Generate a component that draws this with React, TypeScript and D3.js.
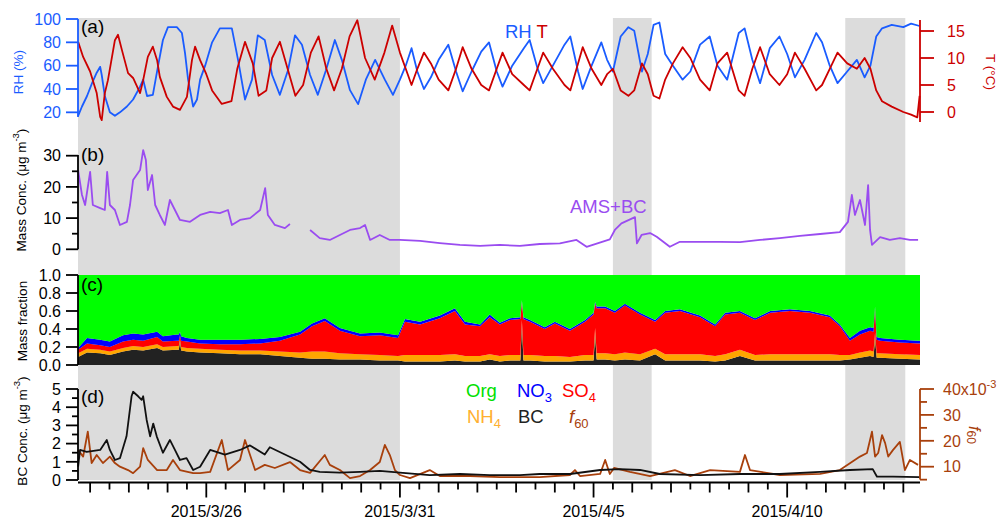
import React from "react";
import * as d3 from "d3";

type P = [number, number | null];

// time = day number counted from 2015-03-01 (32 = April 1)
const rhSeries: P[] = [
  [22.69,17],[22.79,25],[22.92,34],[23.05,45],[23.17,54],[23.26,59],[23.30,52],[23.38,34],[23.51,20],[23.64,17],
  [23.77,20],[23.95,25],[24.11,31],[24.29,42],[24.37,48],[24.47,34],[24.62,35],[24.75,59],[24.88,82],[25.01,93],
  [25.24,93],[25.37,88],[25.45,71],[25.53,48],[25.66,25],[25.76,31],[25.84,48],[25.97,60],[26.15,80],[26.35,92],
  [26.66,92],[26.82,65],[27.00,31],[27.18,48],[27.33,86],[27.51,82],[27.70,52],[27.90,35],[28.11,56],[28.29,86],
  [28.47,78],[28.68,52],[28.88,35],[29.09,56],[29.32,82],[29.50,65],[29.71,39],[29.92,27],[30.12,48],[30.36,65],
  [30.61,48],[30.82,35],[31.00,48],[31.15,60],[31.3,75],[31.45,55],[31.62,40],[31.8,50],[32.0,65],[32.25,78],
  [32.45,55],[32.62,38],[32.85,55],[33.1,72],[33.3,80],[33.5,55],[33.65,42],[33.9,60],[34.2,75],[34.35,82],
  [34.55,58],[34.7,45],[34.95,60],[35.25,78],[35.4,85],[35.6,55],[35.72,40],[35.95,60],[36.2,80],[36.35,65],
  [36.5,55],[36.7,85],[36.9,93],[37.05,90],[37.25,55],[37.4,70],[37.55,95],[37.7,97],[37.85,70],[38.05,60],
  [38.3,48],[38.5,55],[38.75,78],[39.0,85],[39.2,60],[39.45,48],[39.75,88],[39.9,92],[40.1,65],[40.3,45],
  [40.55,75],[40.8,85],[41.0,70],[41.2,50],[41.45,65],[41.75,88],[41.9,80],[42.1,60],[42.3,45],[42.55,55],
  [42.8,65],[43.0,50],[43.15,60],[43.3,85],[43.45,92],[43.7,95],[44.0,93],[44.2,96],[44.42,94]
];

const tSeries: P[] = [
  [22.69,13.0],[22.82,10.2],[23.0,7.5],[23.17,3.5],[23.26,-0.9],[23.30,-1.5],[23.38,3.5],[23.46,5.9],[23.64,13.3],[23.72,14.3],
  [23.82,11.5],[23.98,7.2],[24.11,6.3],[24.29,3.5],[24.37,5.9],[24.49,10.2],[24.62,12.1],[24.73,9.6],[24.80,6.5],[24.98,2.8],
  [25.14,1.0],[25.32,0.4],[25.50,2.8],[25.63,9.6],[25.71,12.1],[25.84,9.6],[26.0,7],[26.15,4],[26.4,1.5],[26.65,2],
  [26.8,8],[27.0,13],[27.2,9],[27.35,3],[27.55,4],[27.7,10],[27.9,13],[28.1,8],[28.3,3],[28.5,5],
  [28.7,11],[28.9,14],[29.1,8],[29.3,4],[29.5,8],[29.7,14],[29.9,17],[30.1,10],[30.35,6],[30.6,11],
  [30.8,16],[31.0,11],[31.15,8],[31.3,5],[31.45,8],[31.62,11],[31.8,9],[32.0,6],[32.25,4],[32.45,8],
  [32.62,12],[32.85,8],[33.1,5],[33.3,4],[33.5,8],[33.65,11],[33.9,7],[34.2,5],[34.35,4],[34.55,8],
  [34.7,11],[34.95,8],[35.25,5],[35.4,4],[35.6,9],[35.72,12],[35.95,8],[36.2,5],[36.35,7],[36.5,8],
  [36.7,4],[36.9,3],[37.05,4],[37.25,9],[37.4,7],[37.55,3],[37.7,2.5],[37.85,6],[38.05,9],[38.3,12],
  [38.5,10],[38.75,6],[39.0,4],[39.2,9],[39.45,11],[39.75,4],[39.9,3],[40.1,8],[40.3,12],[40.55,7],
  [40.8,5],[41.0,7],[41.2,11],[41.45,8],[41.75,4],[41.9,5],[42.1,8],[42.3,11],[42.55,9],[42.8,8],
  [43.0,10],[43.15,8],[43.3,4],[43.45,2],[43.7,1],[44.0,0],[44.2,-0.5],[44.36,-1],[44.42,3]
];

const massSeries: P[] = [
  [22.69,25.4],[22.79,17.4],[22.87,14.2],[23.0,24.8],[23.07,14.2],[23.26,13.2],[23.38,12.6],[23.44,24.8],[23.51,14.2],[23.64,12.6],
  [23.77,7.8],[23.95,8.8],[24.03,14.2],[24.11,22.2],[24.29,25.4],[24.37,31.8],[24.44,28.6],[24.49,19.0],[24.60,23.8],[24.68,14.2],
  [24.80,11.0],[24.93,7.8],[25.06,15.8],[25.19,12.6],[25.32,9.4],[25.58,8.8],[25.84,11.0],[26.10,12.0],[26.35,11.6],[26.56,12.6],
  [26.66,7.8],[26.87,9.4],[27.13,10.0],[27.39,12.6],[27.52,19.6],[27.59,11.0],[27.77,7.8],[28.03,6.8],[28.16,8.1],[28.3,null],
  [28.68,6.2],[28.93,3.6],[29.19,3.0],[29.45,4.6],[29.71,6.2],[29.97,6.8],[30.10,7.8],[30.23,3.0],[30.48,4.6],[30.74,3.0],
  [31.0,3.0],[31.52,2.7],[32.03,2.0],[32.55,1.4],[33.07,1.1],[33.58,1.4],[34.10,1.1],[34.61,1.7],[35.13,1.9],[35.56,3.0],
  [35.82,0.8],[36.42,3.2],[36.55,6.2],[36.72,8.3],[37.07,10.3],[37.12,1.9],[37.24,4.6],[37.46,5.2],[37.63,4.0],[37.97,0.8],
  [38.23,2.4],[38.92,2.4],[39.26,2.4],[39.78,2.3],[40.30,3.0],[40.81,3.6],[41.33,4.3],[41.85,4.9],[42.36,5.5],[42.57,8.8],
  [42.67,17.4],[42.75,11.0],[42.88,15.8],[43.01,7.8],[43.09,20.6],[43.14,6.2],[43.19,1.4],[43.40,3.9],[43.65,3.0],[43.91,3.6],
  [44.17,3.0],[44.38,3.0]
];

const fracTime = [
  22.69,22.92,23.26,23.51,23.85,24.11,24.37,24.73,24.88,25.24,
  25.29,25.32,25.35,25.50,25.84,26.35,26.87,27.39,27.90,28.42,
  28.73,29.06,29.45,29.97,30.48,30.95,31.13,31.52,32.03,32.42,
  32.68,33.07,33.32,33.58,33.84,34.11,34.15,34.19,34.36,34.74,
  35.00,35.39,35.78,36.00,36.04,36.08,36.30,36.55,36.81,37.20,
  37.59,37.85,38.23,38.75,39.14,39.40,39.78,40.17,40.56,41.07,
  41.59,42.10,42.36,42.62,42.88,43.14,43.23,43.27,43.31,43.40,
  43.91,44.43];
const bcFrac = [
  .09,.14,.13,.11,.15,.17,.16,.19,.16,.17,
  .17,.26,.16,.15,.14,.13,.12,.12,.10,.08,
  .07,.07,.06,.06,.05,.05,.04,.04,.04,.05,
  .04,.04,.06,.04,.05,.05,.45,.05,.05,.04,
  .04,.04,.05,.05,.35,.06,.06,.05,.06,.05,
  .12,.05,.05,.05,.04,.05,.10,.05,.05,.05,
  .05,.05,.05,.06,.08,.10,.09,.30,.08,.08,
  .07,.06];
const nh4Frac = [
  .04,.04,.04,.04,.04,.04,.04,.04,.04,.04,
  .04,.03,.04,.04,.04,.04,.04,.04,.05,.06,
  .08,.08,.07,.06,.06,.05,.07,.07,.07,.07,
  .06,.06,.06,.06,.06,.06,.05,.06,.06,.06,
  .06,.05,.06,.06,.06,.07,.07,.07,.08,.07,
  .06,.07,.07,.07,.06,.07,.07,.06,.07,.07,
  .07,.07,.06,.05,.06,.06,.06,.06,.05,.05,
  .05,.05];
const so4Frac = [
  .04,.06,.05,.05,.07,.07,.07,.08,.06,.06,
  .06,.04,.07,.07,.06,.06,.07,.08,.12,.20,
  .28,.34,.25,.20,.22,.20,.37,.34,.41,.48,
  .35,.33,.41,.35,.39,.40,.20,.40,.37,.30,
  .36,.29,.37,.45,.27,.50,.50,.46,.52,.44,
  .30,.46,.48,.41,.33,.44,.41,.39,.46,.48,
  .46,.41,.32,.16,.20,.22,.22,.26,.15,.14,
  .13,.13];
const no3Frac = [
  .02,.06,.06,.06,.07,.07,.07,.06,.06,.07,
  .07,.04,.05,.04,.04,.05,.05,.05,.04,.03,
  .03,.03,.03,.03,.03,.03,.03,.03,.03,.03,
  .03,.02,.03,.02,.02,.02,.02,.02,.02,.02,
  .02,.02,.02,.02,.02,.02,.02,.02,.02,.02,
  .02,.02,.02,.02,.02,.02,.02,.02,.02,.02,
  .02,.02,.02,.03,.04,.04,.04,.03,.03,.03,
  .03,.03];

const bcConcSeries: P[] = [
  [22.69,0.73],[22.74,1.65],[22.91,1.55],[23.26,1.65],[23.43,2.2],[23.51,1.65],[23.64,1.1],[23.77,1.2],[23.94,2.4],[24.07,4.6],
  [24.11,4.85],[24.24,4.6],[24.33,4.4],[24.37,4.6],[24.46,3.3],[24.55,2.4],[24.63,3.1],[24.72,2.4],[24.88,1.5],[25.06,2.2],
  [25.19,1.65],[25.32,1.1],[25.49,1.2],[25.66,0.55],[25.84,0.73],[26.10,1.65],[26.48,1.4],[26.87,1.65],[27.13,1.9],[27.51,1.4],
  [27.64,1.8],[28.03,1.4],[28.42,1.0],[28.68,0.55],[28.93,0.45],[29.45,0.4],[29.97,0.45],[30.48,0.5],[31.0,0.4],[31.77,0.27],
  [32.55,0.33],[33.32,0.27],[34.10,0.27],[34.61,0.33],[35.39,0.33],[36.17,0.55],[36.68,0.6],[37.2,0.55],[37.71,0.33],[38.75,0.27],
  [39.78,0.33],[40.81,0.33],[41.85,0.45],[42.62,0.55],[43.21,0.6],[43.32,0.18],[43.73,0.18],[44.42,0.16]
];

const f60Series: P[] = [
  [22.69,16.4],[22.82,13.9],[22.94,23.5],[23.04,11.4],[23.17,14.5],[23.33,11.4],[23.51,13.9],[23.64,11.4],[23.77,10.0],[23.98,8.7],
  [24.11,7.5],[24.29,10.0],[24.37,17.2],[24.49,12.6],[24.73,8.7],[24.98,8.7],[25.14,12.6],[25.32,8.7],[25.66,7.5],[25.84,7.5],
  [26.10,8.0],[26.40,20.3],[26.56,8.7],[26.87,12.6],[27.0,20.3],[27.26,8.7],[27.51,10.7],[27.77,9.5],[28.16,11.8],[28.42,8.7],
  [28.68,7.6],[29.06,14.5],[29.19,10.7],[29.45,8.7],[29.71,5.6],[29.97,6.4],[30.23,8.7],[30.48,11.8],[30.61,18.4],[30.74,14.5],
  [30.87,8.7],[31.0,6.8],[31.26,5.6],[31.77,8.7],[32.03,6.4],[32.81,6.4],[33.58,6.0],[34.61,6.0],[35.39,6.8],[35.52,8.7],
  [35.65,6.4],[36.17,7.2],[36.30,12.6],[36.42,7.2],[36.53,9.5],[36.94,8.0],[37.46,6.4],[38.10,8.7],[38.49,6.4],[39.01,8.7],
  [39.78,8.0],[39.91,14.5],[40.04,8.7],[40.81,6.8],[41.85,7.2],[42.36,8.7],[42.88,13.9],[43.06,15.3],[43.19,23.5],[43.27,13.9],
  [43.35,15.3],[43.45,22.2],[43.53,19.1],[43.61,13.9],[43.73,16.4],[43.91,19.6],[44.04,8.7],[44.17,12.6],[44.38,10.7]
];

const shadeSpans = [[22.687, 31.0], [36.5, 37.5], [42.5, 44.05]];

const rhTicks = [20, 40, 60, 80, 100];
const tTicks = [0, 5, 10, 15];
const massTicks = [0, 10, 20, 30];
const massMinor = [5, 15, 25];
const fracTicks = [0, 0.2, 0.4, 0.6, 0.8, 1.0];
const bcTicks = [0, 1, 2, 3, 4, 5];
const bcMinor = [0.5, 1.5, 2.5, 3.5, 4.5];
const f60Ticks = [10, 20, 30, 40];
const f60Minor = [5, 15, 25, 35];
const dateLabelDays = [26, 31, 36, 41];

const FONT = "'Liberation Sans', Arial, Helvetica, sans-serif";
const C_RH = "#1a5cff", C_T = "#cc0000", C_MASS = "#9a4cf0", C_BC = "#111111", C_F60 = "#a8400c";
const C_ORG = "#00ff00", C_NO3 = "#0000ff", C_SO4 = "#ff0000", C_NH4 = "#ffa500", C_BCF = "#222222";

const dt = (d: number) => new Date(Date.UTC(2015, 2, 1) + (d - 1) * 864e5);

export default function App() {
  const L = 78, R = 920;
  const x = d3.scaleUtc().domain([dt(22.687), dt(44.43)]).range([L, R]);
  const rhY = d3.scaleLinear().domain([16, 100]).range([117, 19]);
  const tY = d3.scaleLinear().domain([0, 15]).range([112, 31]);
  const massY = d3.scaleLinear().domain([0, 30]).range([249.3, 155.7]);
  const fracY = d3.scaleLinear().domain([0, 1]).range([365, 275]);
  const bcY = d3.scaleLinear().domain([0, 5]).range([480, 389]);
  const f60Y = d3.scaleLinear().domain([10, 40]).range([466.7, 389]);

  const mk = (ys: d3.ScaleLinear<number, number>) =>
    d3.line<P>().defined(d => d[1] !== null).x(d => x(dt(d[0]))).y(d => ys(d[1] as number));

  const rows = fracTime.map((t, i) => {
    const bc = bcFrac[i], nh4 = nh4Frac[i], so4 = so4Frac[i], no3 = no3Frac[i];
    return { t, bc, nh4, so4, no3, org: 1 - bc - nh4 - so4 - no3 };
  });
  const keys = ["bc", "nh4", "so4", "no3", "org"];
  const colors: Record<string, string> = { bc: C_BCF, nh4: C_NH4, so4: C_SO4, no3: C_NO3, org: C_ORG };
  const stacked = d3.stack<any>().keys(keys)(rows);
  const area = d3.area<any>().x(d => x(dt(d.data.t))).y0(d => fracY(d[0])).y1(d => fracY(d[1]));

  const leftAxis = (scale: any, ticks: number[], minor: number[], color: string, fmt: (v: number) => string, y1: number, y2: number) => (
    <g>
      <line x1={L} x2={L} y1={y1} y2={y2} stroke={color} strokeWidth={1.8} />
      {ticks.map(t => <line key={"a" + t} x1={L - 12} x2={L} y1={scale(t)} y2={scale(t)} stroke={color} strokeWidth={1.8} />)}
      {minor.map(t => <line key={"m" + t} x1={L - 6} x2={L} y1={scale(t)} y2={scale(t)} stroke={color} strokeWidth={1.8} />)}
      {ticks.map(t => <text key={"t" + t} x={L - 17} y={scale(t)} dy="0.36em" textAnchor="end" fill={color} fontSize={16}>{fmt(t)}</text>)}
    </g>
  );
  const rightAxis = (scale: any, ticks: number[], minor: number[], color: string, y1: number, y2: number) => (
    <g>
      <line x1={R} x2={R} y1={y1} y2={y2} stroke={color} strokeWidth={1.8} />
      {ticks.map(t => <line key={"a" + t} x1={R} x2={R + 14} y1={scale(t)} y2={scale(t)} stroke={color} strokeWidth={1.8} />)}
      {minor.map(t => <line key={"m" + t} x1={R} x2={R + 7} y1={scale(t)} y2={scale(t)} stroke={color} strokeWidth={1.8} />)}
    </g>
  );

  const xTicks = d3.utcHour.every(12)!.range(dt(22.687), dt(44.43));
  const labelSet = new Set(dateLabelDays.map(d => dt(d).getTime()));
  const fmtDate = d3.utcFormat("%Y/%-m/%-d");
  const fmt1 = d3.format(".1f");

  return (
    <svg width={1000} height={524} style={{ position: "absolute", left: 0, top: 0, background: "#fff" }} fontFamily={FONT}>
      <rect x={0} y={0} width={1000} height={524} fill="#fff" />
      {shadeSpans.map((s, i) => (
        <rect key={i} x={x(dt(s[0]))} y={18} width={x(dt(s[1])) - x(dt(s[0]))} height={462} fill="#dcdcdc" />
      ))}

      {stacked.map(s => <path key={s.key} d={area(s) || ""} fill={colors[s.key]} />)}

      <path d={mk(rhY)(rhSeries) || ""} fill="none" stroke={C_RH} strokeWidth={1.8} strokeLinejoin="round" />
      <path d={mk(tY)(tSeries) || ""} fill="none" stroke={C_T} strokeWidth={1.8} strokeLinejoin="round" />
      <path d={mk(massY)(massSeries) || ""} fill="none" stroke={C_MASS} strokeWidth={1.8} strokeLinejoin="round" />
      <path d={mk(f60Y)(f60Series) || ""} fill="none" stroke={C_F60} strokeWidth={1.8} strokeLinejoin="round" />
      <path d={mk(bcY)(bcConcSeries) || ""} fill="none" stroke={C_BC} strokeWidth={1.8} strokeLinejoin="round" />

      {leftAxis(rhY, rhTicks, [], C_RH, v => String(v), 19, 117)}
      {rightAxis(tY, tTicks, [], C_T, 20, 122)}
      {tTicks.map(t => <text key={t} x={947} y={tY(t)} dy="0.36em" fill={C_T} fontSize={16}>{t}</text>)}
      {leftAxis(massY, massTicks, massMinor, "#000", v => String(v), 155, 249.3)}
      {leftAxis(fracY, fracTicks, [], "#000", v => fmt1(v), 275, 365)}
      {leftAxis(bcY, bcTicks, bcMinor, "#000", v => String(v), 389, 480)}
      {rightAxis(f60Y, f60Ticks, f60Minor, C_F60, 389, 479.6)}
      {f60Ticks.map(t => (
        <text key={t} x={943} y={f60Y(t)} dy="0.36em" fill={C_F60} fontSize={16}>
          {t}{t === 40 ? <>x10<tspan dy="-7" fontSize={11}>-3</tspan></> : null}
        </text>
      ))}

      <line x1={L} x2={R} y1={482.5} y2={482.5} stroke="#000" strokeWidth={1.8} />
      {xTicks.map(t => {
        const isNoon = t.getUTCHours() === 12;
        const isLab = labelSet.has(t.getTime());
        const len = isNoon ? 7 : isLab ? 15 : 10;
        return <line key={t.getTime()} x1={x(t)} x2={x(t)} y1={482.5} y2={482.5 + len} stroke="#000" strokeWidth={1.8} />;
      })}
      {dateLabelDays.map(d => (
        <text key={d} x={x(dt(d))} y={517} textAnchor="middle" fontSize={16} fill="#000">{fmtDate(dt(d))}</text>
      ))}

      <text transform="translate(18,72) rotate(-90)" textAnchor="middle" dominantBaseline="central" fill={C_RH} fontSize={13.5}>RH (%)</text>
      <text transform="translate(990,72) rotate(90)" textAnchor="middle" dominantBaseline="central" fill={C_T} fontSize={13.5}>T (°C)</text>
      <text transform="translate(21,190) rotate(-90)" textAnchor="middle" dominantBaseline="central" fill="#000" fontSize={13.5}>
        Mass Conc. (μg m<tspan dy="-6" fontSize={9.5}>-3</tspan><tspan dy="6">)</tspan>
      </text>
      <text transform="translate(22,321) rotate(-90)" textAnchor="middle" dominantBaseline="central" fill="#000" fontSize={13.5}>Mass fraction</text>
      <text transform="translate(22,431) rotate(-90)" textAnchor="middle" dominantBaseline="central" fill="#000" fontSize={13.5}>
        BC Conc. (μg m<tspan dy="-6" fontSize={9.5}>-3</tspan><tspan dy="6">)</tspan>
      </text>
      <text transform="translate(975,435) rotate(90)" textAnchor="middle" dominantBaseline="central" fill={C_F60} fontSize={16}>
        <tspan fontStyle="italic">f</tspan><tspan dy="4" fontSize={12}>60</tspan>
      </text>

      <text x={81} y={33} fontSize={19} fill="#000">(a)</text>
      <text x={81} y={161} fontSize={19} fill="#000">(b)</text>
      <text x={81} y={291} fontSize={19} fill="#000">(c)</text>
      <text x={81} y={403} fontSize={19} fill="#000">(d)</text>

      <text x={505} y={38} fontSize={18.5} fill={C_RH}>RH <tspan fill={C_T}>T</tspan></text>
      <text x={570} y={213} fontSize={18.5} fill={C_MASS}>AMS+BC</text>
      <g fontSize={18.5}>
        <text x={466} y={397} fill="#00e000">Org</text>
        <text x={517} y={397} fill={C_NO3}>NO<tspan dy="5" fontSize={13}>3</tspan></text>
        <text x={562} y={397} fill={C_SO4}>SO<tspan dy="5" fontSize={13}>4</tspan></text>
        <text x={467} y={423} fill="#ffb030">NH<tspan dy="5" fontSize={13}>4</tspan></text>
        <text x={518} y={423} fill="#222">BC</text>
        <text x={569} y={423} fill={C_F60}><tspan fontStyle="italic">f</tspan><tspan dy="5" fontSize={13}>60</tspan></text>
      </g>
    </svg>
  );
}
